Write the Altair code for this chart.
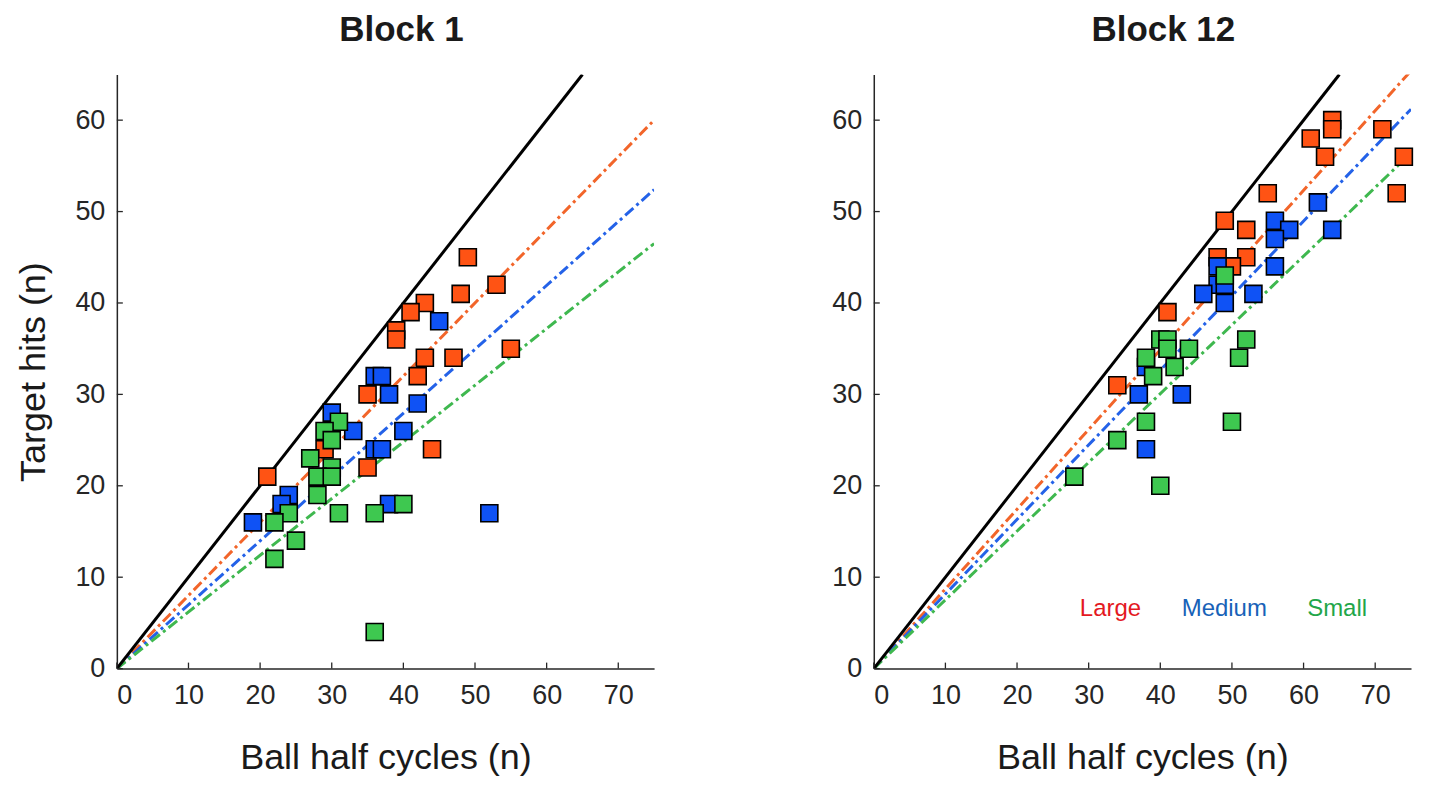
import altair as alt
import pandas as pd

# ---------------- data ----------------
sizes = ["Large", "Medium", "Small"]
point_colors = ["#ff5314", "#0f52f5", "#3ec850"]
line_colors = ["#f2652a", "#2462e8", "#3fb84f"]
label_colors = ["#e4191f", "#1862b8", "#22a649"]

# Block 1
b1_large_x = [49, 53, 48, 43, 41, 39, 39, 43, 47, 55, 42, 35, 44, 29, 35, 21]
b1_large_y = [45, 42, 41, 40, 39, 37, 36, 34, 34, 35, 32, 30, 24, 24, 22, 21]
b1_medium_x = [45, 36, 37, 38, 42, 30, 33, 40, 36, 37, 24, 23, 19, 38, 52]
b1_medium_y = [38, 32, 32, 30, 29, 28, 26, 26, 24, 24, 19, 18, 16, 18, 17]
b1_small_x = [31, 29, 30, 27, 30, 28, 30, 28, 24, 22, 31, 36, 40, 25, 22, 36]
b1_small_y = [27, 26, 25, 23, 22, 21, 21, 19, 17, 16, 17, 17, 18, 14, 12, 4]
b1_line_end = [60.0, 52.4, 46.5]      # fitted line value at x = 75

# Block 12
b12_large_x = [64, 64, 61, 71, 63, 74, 55, 73, 49, 52, 48, 52, 50, 41, 34]
b12_large_y = [60, 59, 58, 59, 56, 56, 52, 52, 49, 48, 45, 45, 44, 39, 31]
b12_medium_x = [62, 56, 58, 64, 56, 56, 48, 48, 49, 46, 53, 49, 37, 43, 38, 38]
b12_medium_y = [51, 49, 48, 48, 47, 44, 44, 42, 42, 41, 41, 40, 30, 30, 33, 24]
b12_small_x = [49, 40, 41, 41, 44, 52, 38, 42, 39, 51, 38, 50, 34, 28, 40]
b12_small_y = [43, 36, 36, 35, 35, 36, 34, 33, 32, 34, 27, 27, 25, 21, 20]
b12_line_end = [65.4, 61.2, 56.4]

identity_end = [0, 65]
x_domain = [0, 75]
y_domain = [0, 65]
x_ticks = [0, 10, 20, 30, 40, 50, 60, 70]
y_ticks = [0, 10, 20, 30, 40, 50, 60]

# ---------------- layout / style ----------------
W, H = 538, 595
FONT = "Liberation Sans"
AX = "#262626"

xs = alt.Scale(domain=x_domain, nice=False, zero=False)
ys = alt.Scale(domain=y_domain, nice=False, zero=False)


def make_panel(title, dx, lx, ly, mx, my, sx, sy, line_end, y_title, with_labels):
    xaxis = alt.Axis(values=x_ticks, title="Ball half cycles (n)", ticks=False,
                     labelPadding=14, titlePadding=32, grid=False)
    if y_title:
        yaxis = alt.Axis(values=y_ticks, title="Target hits (n)", ticks=False,
                         labelPadding=12, titlePadding=22, grid=False)
    else:
        yaxis = alt.Axis(values=y_ticks, title=None, ticks=False,
                         labelPadding=12, grid=False)

    pts = pd.DataFrame({
        "x": lx + mx + sx,
        "y": ly + my + sy,
        "size": ["Large"] * len(lx) + ["Medium"] * len(mx) + ["Small"] * len(sx),
    })
    lines = pd.DataFrame({
        "x0": [x_domain[0]] * 3, "y0": [0, 0, 0],
        "x1": [x_domain[1]] * 3, "y1": line_end, "size": sizes,
    })
    ident = pd.DataFrame({"x0": [identity_end[0]], "y0": [identity_end[0]],
                          "x1": [identity_end[1]], "y1": [identity_end[1]]})

    fit = alt.Chart(lines).mark_rule(strokeWidth=3, strokeDash=[11, 4, 3, 4], clip=True).encode(
        x=alt.X("x0:Q", scale=xs, axis=xaxis), y=alt.Y("y0:Q", scale=ys, axis=yaxis),
        x2="x1:Q", y2="y1:Q",
        stroke=alt.Stroke("size:N", scale=alt.Scale(domain=sizes, range=line_colors), legend=None),
    )
    diag = alt.Chart(ident).mark_rule(strokeWidth=3, color="black", clip=True).encode(
        x=alt.X("x0:Q", scale=xs, axis=xaxis), y=alt.Y("y0:Q", scale=ys, axis=yaxis),
        x2="x1:Q", y2="y1:Q",
    )
    dots = alt.Chart(pts).mark_square(size=290, opacity=1, stroke="black", strokeWidth=1.6).encode(
        x=alt.X("x:Q", scale=xs, axis=xaxis), y=alt.Y("y:Q", scale=ys, axis=yaxis),
        fill=alt.Fill("size:N", scale=alt.Scale(domain=sizes, range=point_colors), legend=None),
    )
    xt = alt.Chart(pd.DataFrame({"t": x_ticks})).mark_rule(color=AX, strokeWidth=1.3).encode(
        x=alt.X("t:Q", scale=xs, axis=xaxis), y=alt.value(H), y2=alt.value(H - 6))
    yt = alt.Chart(pd.DataFrame({"t": y_ticks})).mark_rule(color=AX, strokeWidth=1.3).encode(
        y=alt.Y("t:Q", scale=ys, axis=yaxis), x=alt.value(0), x2=alt.value(6))

    layers = [fit, diag, dots, xt, yt]
    if with_labels:
        label_px = [237, 351, 464]
        for name, col, px in zip(sizes, label_colors, label_px):
            layers.append(
                alt.Chart(pd.DataFrame({"label": [name]})).mark_text(
                    font=FONT, fontSize=24, color=col, align="center", baseline="middle"
                ).encode(text="label:N", x=alt.value(px), y=alt.value(535))
            )
    return alt.layer(*layers).properties(
        width=W, height=H,
        title=alt.TitleParams(text=title, fontSize=35, fontWeight="bold", font=FONT,
                              anchor="middle", dx=dx, offset=26, color="#1a1a1a"),
    )


left = make_panel("Block 1", 16, b1_large_x, b1_large_y, b1_medium_x, b1_medium_y,
                  b1_small_x, b1_small_y, b1_line_end, True, False)
right = make_panel("Block 12", 21, b12_large_x, b12_large_y, b12_medium_x, b12_medium_y,
                   b12_small_x, b12_small_y, b12_line_end, False, True)

chart = alt.hconcat(left, right, spacing=177).properties(
    padding={"left": 7, "top": 5, "right": 5, "bottom": 5},
    background="white",
).configure_view(strokeOpacity=0).configure_axis(
    domainColor=AX, domainWidth=1.5, labelColor=AX, labelFont=FONT, labelFontSize=27,
    titleFont=FONT, titleFontSize=36, titleFontWeight="normal", titleColor="#1a1a1a",
)

chart.save("out.html", embed_options={"renderer": "svg", "actions": False})
